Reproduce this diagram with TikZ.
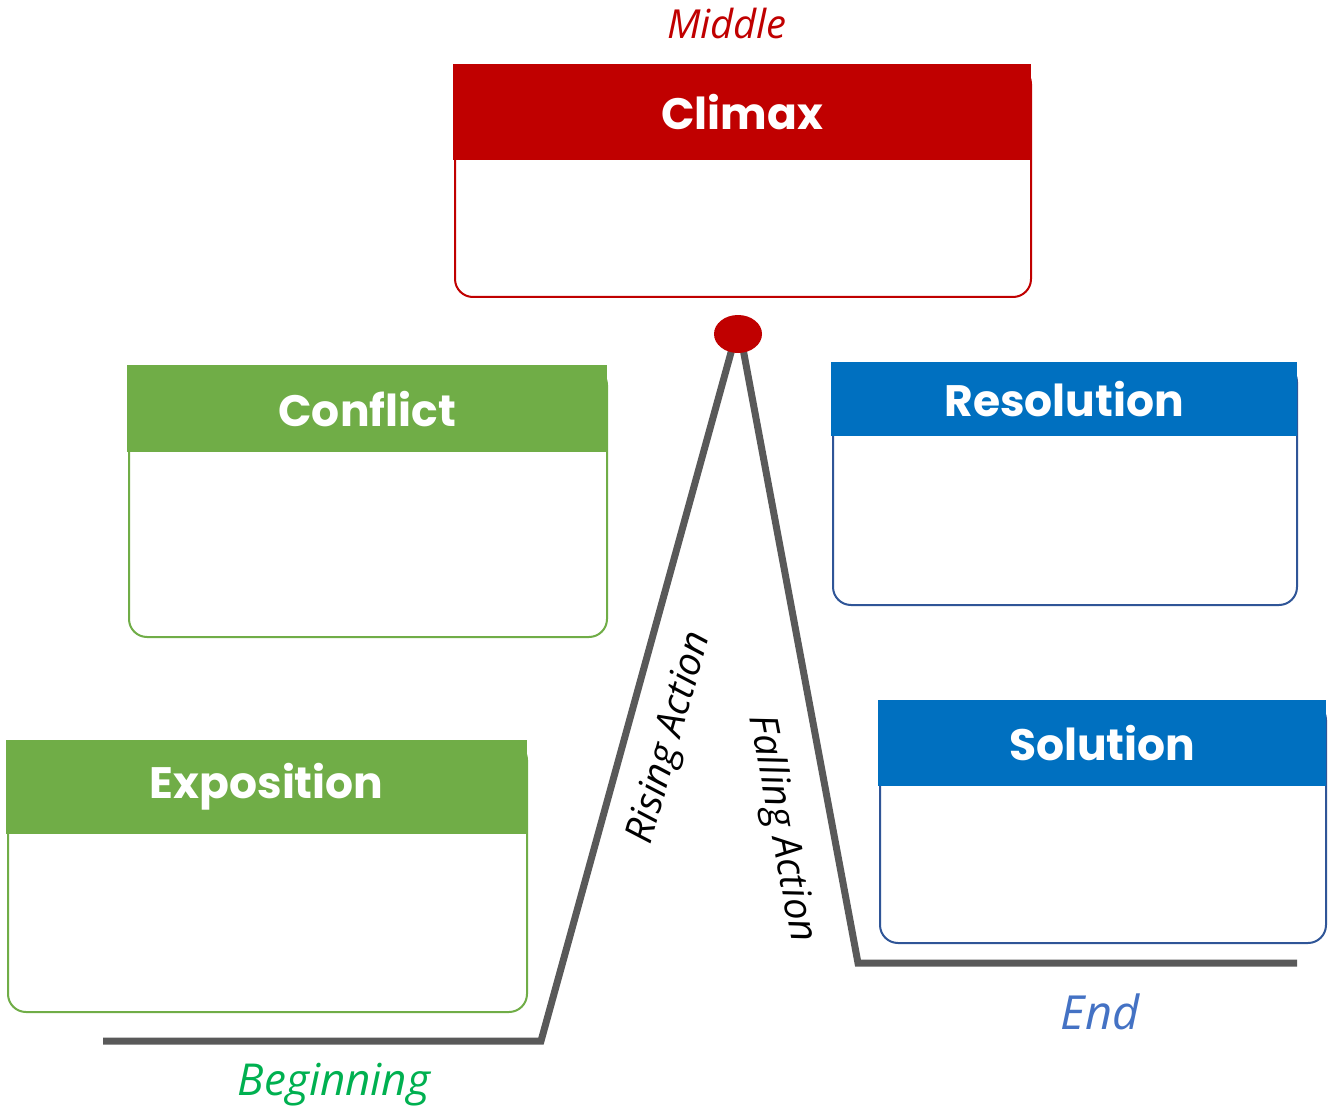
\documentclass[tikz,border=0pt]{standalone}
\usepackage{fontspec}
\setmainfont{Open Sans}
\newfontfamily\headfont{Poppins}
\usetikzlibrary{shapes.geometric}
\definecolor{cred}{HTML}{C00000}
\definecolor{cgreen}{HTML}{70AD47}
\definecolor{cblue}{HTML}{0070C0}
\definecolor{cblueb}{HTML}{2F5597}
\definecolor{cgrey}{HTML}{595959}
\definecolor{lgreen}{HTML}{00B050}
\definecolor{lblue}{HTML}{4472C4}
\begin{document}
\begin{tikzpicture}[x=1pt,y=-1pt,
  bodybox/.style={draw=#1, line width=2pt, rounded corners=18pt, fill=white, anchor=north west, inner sep=0pt},
  headbox/.style={fill=#1, anchor=north west, inner sep=0pt, text=white, font=\headfont\bfseries\fontsize{44}{52}\selectfont},
  stage/.style={font=\itshape\fontsize{#1}{50}\selectfont},
  actlabel/.style={font=\itshape\fontsize{39}{46}\selectfont, text=black},
  arc/.style={draw=cgrey, line width=7pt},
]
\useasboundingbox (0,0) rectangle (1333,1107);

% Climax
\node[bodybox=cred, minimum width=576pt, minimum height=231pt] (climaxbody) at (454,65) {};
\node[headbox=cred, minimum width=578pt, minimum height=96pt] (climax) at (453,64) {Climax};
% Conflict
\node[bodybox=cgreen, minimum width=478pt, minimum height=270pt] (conflictbody) at (128,366) {};
\node[headbox=cgreen, minimum width=480pt, minimum height=87pt] (conflict) at (127,365) {Conflict};
% Exposition
\node[bodybox=cgreen, minimum width=519pt, minimum height=270pt] (expbody) at (7,741) {};
\node[headbox=cgreen, minimum width=521pt, minimum height=94pt] (exp) at (6,740) {Exposition};
% Resolution
\node[bodybox=cblueb, minimum width=464pt, minimum height=241pt] (resbody) at (832,363) {};
\node[headbox=cblue, minimum width=466pt, minimum height=74pt] (res) at (831,362) {Resolution};
% Solution
\node[bodybox=cblueb, minimum width=446pt, minimum height=241pt] (solbody) at (879,701) {};
\node[headbox=cblue, minimum width=448pt, minimum height=86pt] (sol) at (878,700) {Solution};

% plot line
\coordinate (b0) at (103,1041);
\coordinate (b1) at (541,1041);
\coordinate (pl) at (735,338);
\coordinate (pr) at (741,338);
\coordinate (e0) at (858,963);
\coordinate (e1) at (1297,963);
\draw[arc] (b0) -- (b1) -- (pl);
\draw[arc] (pr) -- (e0) -- (e1);
\node[ellipse, fill=cred, minimum width=48pt, minimum height=38pt, inner sep=0pt] (peak) at (738,334) {};

% labels
\node[stage=40, text=cred] (middle) at (727,24) {Middle};
\node[stage=44, text=lgreen] (beginning) at (334,1085) {Beginning};
\node[stage=47, text=lblue] (end) at (1100,1012) {End};
\node[actlabel, rotate=74.4] (rising) at (671,738) {Rising Action};
\node[actlabel, rotate=-79.4] (falling) at (781,829) {Falling Action};
\end{tikzpicture}
\end{document}
